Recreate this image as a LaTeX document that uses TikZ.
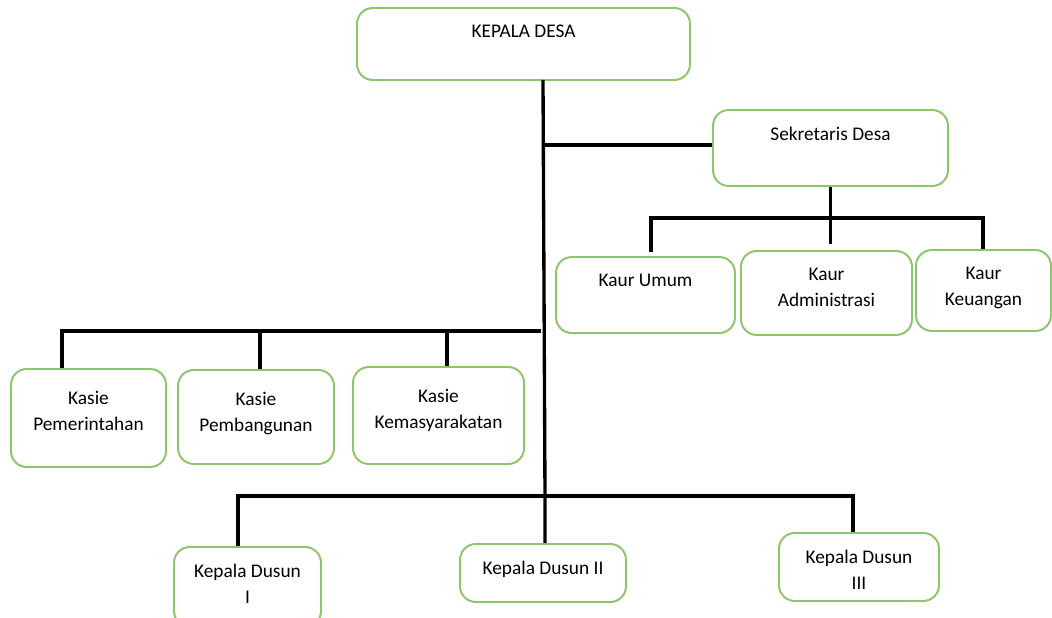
\documentclass[tikz,border=0pt]{standalone}
\usepackage{fontspec}
\setmainfont{Carlito}
\definecolor{hijau}{HTML}{8CC66A}

\begin{document}
\begin{tikzpicture}[x=0.02cm,y=-0.02cm,
  jabatan/.style 2 args={draw=hijau,line width=1.1pt,rounded corners=9pt,
    minimum width=#1*0.02cm,minimum height=#2*0.02cm,inner sep=0pt},
  teks/.style={anchor=north,align=center,inner sep=0pt,yshift=-10pt,
    font=\fontsize{11}{14.7}\selectfont},
  garis/.style={line width=1.9pt,black}]
\fill[white] (0,0) rectangle (1052,618);
\clip (0,0) rectangle (1052,618);
% kotak jabatan
\node[jabatan={333}{72},label={[teks]north:KEPALA DESA}] (kades) at (523.5,44) {};
\node[jabatan={235}{76},label={[teks]north:Sekretaris Desa}] (sekdes) at (830.5,148) {};
\node[jabatan={179}{76},label={[teks]north:Kaur Umum}] (kaurumum) at (645.5,295) {};
\node[jabatan={171}{84},label={[teks]north:Kaur\\Administrasi}] (kauradm) at (826.5,293) {};
\node[jabatan={135}{81},label={[teks]north:Kaur\\Keuangan}] (kaurkeu) at (983.5,290.5) {};
\node[jabatan={155}{98},label={[teks,yshift=-3pt]north:Kasie\\Pemerintahan}] (kasiepem) at (88.5,418) {};
\node[jabatan={156}{94},label={[teks,yshift=-3pt]north:Kasie\\Pembangunan}] (kasiebang) at (256,417) {};
\node[jabatan={171}{97},label={[teks,yshift=-3pt]north:Kasie\\Kemasyarakatan}] (kasiekemas) at (438.5,415.5) {};
\node[jabatan={147}{80},label={[teks]north:Kepala Dusun\\I}] (dusun1) at (247.5,587) {};
\node[jabatan={166}{58},label={[teks]north:Kepala Dusun II}] (dusun2) at (543,573) {};
\node[jabatan={160}{68},label={[teks]north:Kepala Dusun\\III}] (dusun3) at (859,567) {};
% titik cabang
\coordinate (batang) at (543,80);
\coordinate (cabkasie) at (541,331);
\coordinate (cabdusun) at (545,496);
\coordinate (cabkaur) at (830.5,218);
% garis
\draw[garis] (batang) -- (cabdusun) -- (dusun2.north -| cabdusun);
\draw[garis] (sekdes.west |- 0,145) -- (batang |- 0,145);
\draw[garis] (cabkasie) -- (62,331) -- (kasiepem.north -| 62,0);
\draw[garis] (260,331) -- (kasiebang.north -| 260,0);
\draw[garis] (447,331) -- (kasiekemas.north -| 447,0);
\draw[garis] (sekdes.south) -- (cabkaur) -- (cabkaur |- 0,244);
\draw[garis] (651,252) -- (651,218) -- (983,218) -- (kaurkeu.north -| 983,0);
\draw[garis] (dusun1.north -| 238,0) -- (238,496) -- (853,496) -- (dusun3.north -| 853,0);
\end{tikzpicture}
\end{document}
